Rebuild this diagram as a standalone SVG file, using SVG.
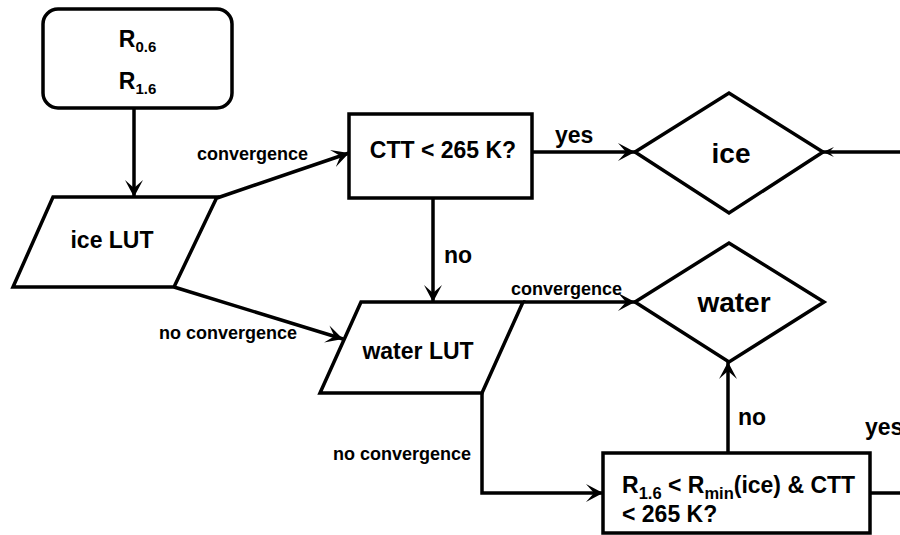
<svg xmlns="http://www.w3.org/2000/svg" width="900" height="535" viewBox="0 0 900 535">
<style>
.sh{fill:#fff;stroke:#000;stroke-width:3.5;stroke-linejoin:miter}
.ln{fill:none;stroke:#000;stroke-width:3.5}
text{font-family:"Liberation Sans",Arial,sans-serif;font-weight:bold;fill:#000}
.main{font-size:23px}
.big{font-size:28px}
.lab{font-size:18px}
.sub{font-size:15px}
.sub2{font-size:16.5px}
</style>
<defs>
<marker id="arr" markerUnits="userSpaceOnUse" markerWidth="18" markerHeight="20" refX="17" refY="10" orient="auto">
<path d="M0,1 L17,10 L0,19 L8,10 z" fill="#000"/>
</marker>
<marker id="arrs" markerUnits="userSpaceOnUse" markerWidth="12" markerHeight="12" refX="11" refY="6" orient="auto">
<path d="M0,1 L11,6 L0,11 L5,6 z" fill="#000"/>
</marker>
</defs>
<g id="connectors">
<line class="ln" x1="134" y1="108" x2="134" y2="197" marker-end="url(#arr)"/>
<line class="ln" x1="217" y1="198" x2="349" y2="153" marker-end="url(#arr)"/>
<text class="lab" x="197" y="160">convergence</text>
<line class="ln" x1="174" y1="287" x2="343" y2="339" marker-end="url(#arr)"/>
<text class="lab" x="159" y="339">no convergence</text>
<line class="ln" x1="532" y1="152" x2="635" y2="152" marker-end="url(#arr)"/>
<text class="main" x="555" y="143">yes</text>
<line class="ln" x1="900" y1="152" x2="823" y2="152" marker-end="url(#arrs)"/>
<line class="ln" x1="433" y1="198" x2="433" y2="302" marker-end="url(#arr)"/>
<text class="main" x="444" y="263">no</text>
<line class="ln" x1="523" y1="302" x2="635" y2="302" marker-end="url(#arr)"/>
<text class="lab" x="511" y="295">convergence</text>
<polyline class="ln" points="482,393 482,493 603,493" marker-end="url(#arr)"/>
<text class="lab" x="333" y="460">no convergence</text>
<line class="ln" x1="728" y1="453" x2="728" y2="362" marker-end="url(#arr)"/>
<text class="main" x="738" y="425">no</text>
<line class="ln" x1="870" y1="493" x2="900" y2="493"/>
<text class="main" x="865" y="435">yes</text>
</g>
<g id="input">
<rect class="sh" x="43" y="9" width="189" height="99" rx="15" ry="15"/>
<text class="main" x="137.5" y="47" text-anchor="middle">R<tspan class="sub" dy="5">0.6</tspan></text>
<text class="main" x="137.5" y="89" text-anchor="middle">R<tspan class="sub" dy="5">1.6</tspan></text>
</g>
<g id="iceLUT">
<polygon class="sh" points="53,197 217,197 174,287 13,287"/>
<text class="main" x="112" y="248" text-anchor="middle">ice LUT</text>
</g>
<g id="cttTest">
<rect class="sh" x="349" y="114" width="183" height="84"/>
<text class="main" x="443" y="158" text-anchor="middle">CTT &lt; 265 K?</text>
</g>
<g id="ice">
<polygon class="sh" points="635,152 729,93 823,152 729,213"/>
<text class="big" x="731" y="163" text-anchor="middle">ice</text>
</g>
<g id="waterLUT">
<polygon class="sh" points="361,302 523,302 482,393 320,393"/>
<text class="main" x="418" y="359" text-anchor="middle">water LUT</text>
</g>
<g id="water">
<polygon class="sh" points="635,302 729,243 824,302 729,362"/>
<text class="big" x="734" y="312" text-anchor="middle">water</text>
</g>
<g id="rminTest">
<rect class="sh" x="603" y="453" width="267" height="80"/>
<text class="main" x="622" y="493">R<tspan class="sub2" dy="6">1.6</tspan><tspan dy="-6"> &lt; R</tspan><tspan class="sub2" dy="6">min</tspan><tspan dy="-6">(ice) &amp; CTT</tspan></text>
<text class="main" x="622" y="522">&lt; 265 K?</text>
</g>
</svg>
